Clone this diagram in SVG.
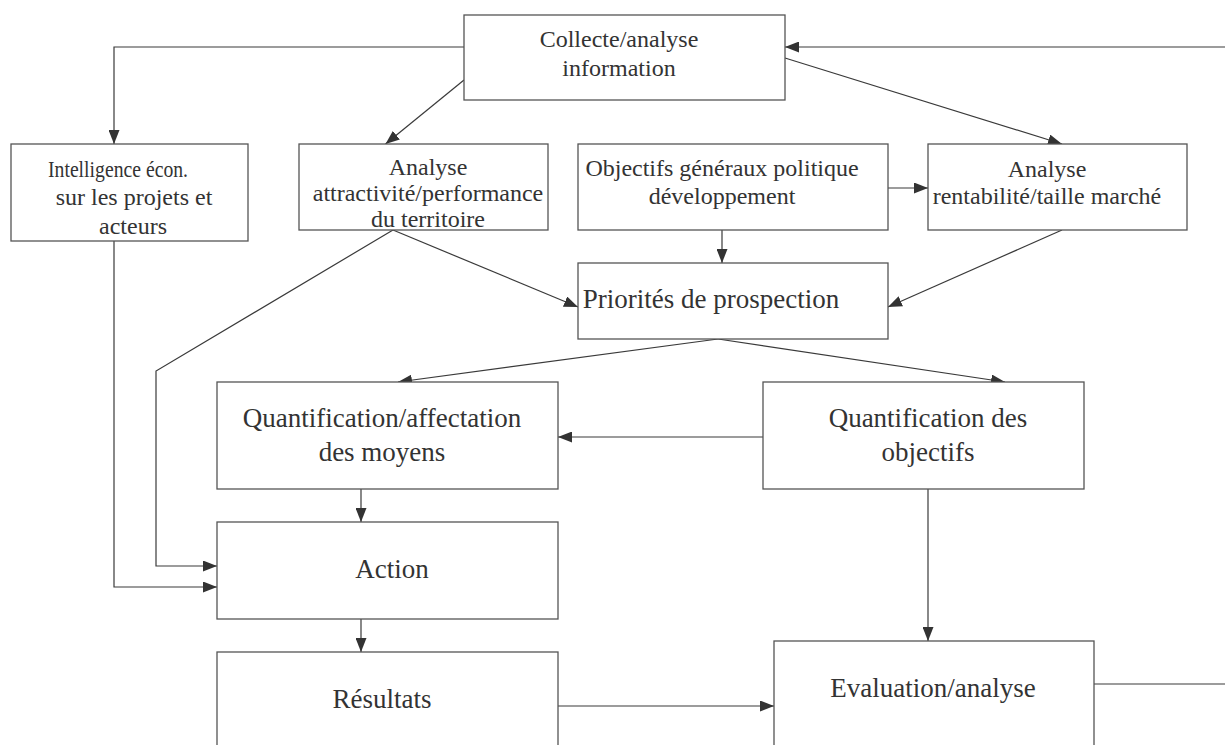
<svg xmlns="http://www.w3.org/2000/svg" width="1225" height="745" viewBox="0 0 1225 745">
<defs>
<style>
.box{fill:#fff;stroke:#555;stroke-width:1.3}
.t{font-family:"Liberation Serif","Times New Roman",serif;fill:#333;text-anchor:middle}
.s{font-size:24px}
.b{font-size:27px}
.c{fill:none;stroke:#3a3a3a;stroke-width:1.2}
</style>
<marker id="ah" markerUnits="userSpaceOnUse" viewBox="0 0 14 11" refX="14" refY="5.5" markerWidth="14" markerHeight="11" orient="auto">
<path d="M0,0 L14,5.5 L0,11 z" fill="#333"/>
</marker>
</defs>
<rect width="1225" height="745" fill="#fff"/>
<g id="connectors">
<path class="c" d="M464,47 H114 V144" marker-end="url(#ah)"/>
<path class="c" d="M464,80 L385.5,144" marker-end="url(#ah)"/>
<path class="c" d="M785,58 L1062,144" marker-end="url(#ah)"/>
<path class="c" d="M1225,47 H785" marker-end="url(#ah)"/>
<path class="c" d="M888,188 H928" marker-end="url(#ah)"/>
<path class="c" d="M722,230 V263" marker-end="url(#ah)"/>
<path class="c" d="M1062,230 L888,307" marker-end="url(#ah)"/>
<path class="c" d="M393,230 L578,307" marker-end="url(#ah)"/>
<path class="c" d="M393,230 L156,371 V566 H217" marker-end="url(#ah)"/>
<path class="c" d="M114,241 V587 H217" marker-end="url(#ah)"/>
<path class="c" d="M718,339 L398,382" marker-end="url(#ah)"/>
<path class="c" d="M718,339 L1005,382" marker-end="url(#ah)"/>
<path class="c" d="M763,437 H558" marker-end="url(#ah)"/>
<path class="c" d="M361,489 V522" marker-end="url(#ah)"/>
<path class="c" d="M361,619 V652" marker-end="url(#ah)"/>
<path class="c" d="M928,489 V641" marker-end="url(#ah)"/>
<path class="c" d="M558,706 H774" marker-end="url(#ah)"/>
<path class="c" d="M1094,684 H1225"/>
</g>
<g id="collecte">
<rect class="box" x="464" y="15" width="321" height="85"/>
<text class="t s" x="619" y="47">Collecte/analyse</text>
<text class="t s" x="619" y="76">information</text>
</g>
<g id="intelligence">
<rect class="box" x="11" y="144" width="237" height="97"/>
<text class="t s" x="118" y="177" textLength="140" lengthAdjust="spacingAndGlyphs">Intelligence écon.</text>
<text class="t s" x="134" y="205">sur les projets et</text>
<text class="t s" x="133" y="234">acteurs</text>
</g>
<g id="attractivite">
<rect class="box" x="299" y="144" width="249" height="86"/>
<text class="t s" x="428" y="175">Analyse</text>
<text class="t s" x="428" y="201">attractivité/performance</text>
<text class="t s" x="428" y="227">du territoire</text>
</g>
<g id="objectifs-generaux">
<rect class="box" x="578" y="144" width="310" height="86"/>
<text class="t s" x="722" y="176">Objectifs généraux politique</text>
<text class="t s" x="722" y="204">développement</text>
</g>
<g id="rentabilite">
<rect class="box" x="928" y="144" width="259" height="86"/>
<text class="t s" x="1047" y="177">Analyse</text>
<text class="t s" x="1047" y="204">rentabilité/taille marché</text>
</g>
<g id="priorites">
<rect class="box" x="578" y="263" width="310" height="76"/>
<text class="t b" x="711" y="308">Priorités de prospection</text>
</g>
<g id="quant-moyens">
<rect class="box" x="217" y="382" width="341" height="107"/>
<text class="t b" x="382" y="427">Quantification/affectation</text>
<text class="t b" x="382" y="461">des moyens</text>
</g>
<g id="quant-objectifs">
<rect class="box" x="763" y="382" width="321" height="107"/>
<text class="t b" x="928" y="427">Quantification des</text>
<text class="t b" x="928" y="461">objectifs</text>
</g>
<g id="action">
<rect class="box" x="217" y="522" width="341" height="97"/>
<text class="t b" x="392" y="578">Action</text>
</g>
<g id="resultats">
<rect class="box" x="217" y="652" width="341" height="110"/>
<text class="t b" x="382" y="708">Résultats</text>
</g>
<g id="evaluation">
<rect class="box" x="774" y="641" width="320" height="120"/>
<text class="t b" x="933" y="697">Evaluation/analyse</text>
</g>
</svg>
